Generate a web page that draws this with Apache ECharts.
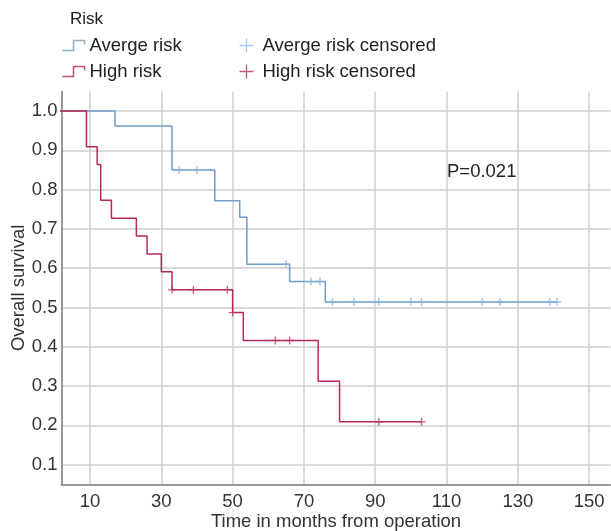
<!DOCTYPE html>
<html><head><meta charset="utf-8">
<script src="https://cdn.jsdelivr.net/npm/echarts@6/dist/echarts.min.js"></script>
<style>html,body{margin:0;padding:0;background:#fff}#c{width:611px;height:531px}</style>
</head><body><div id="c"></div>
<script>
var xTicks = [10, 30, 50, 70, 90, 110, 130, 150];
var yTicks = [0.1, 0.2, 0.3, 0.4, 0.5, 0.6, 0.7, 0.8, 0.9, 1.0];

var avgTimes = [0, 17, 33, 45, 52, 54, 66, 76, 141];
var avgSurv  = [1, 0.962, 0.850, 0.772, 0.730, 0.610, 0.566, 0.514, 0.514];
var avgCensT = [35, 40, 65, 72, 74.5, 78, 84, 91, 100, 103, 120, 125, 139, 141];
var avgCensS = [0.850, 0.850, 0.610, 0.566, 0.566, 0.514, 0.514, 0.514, 0.514, 0.514, 0.514, 0.514, 0.514, 0.514];

var highTimes = [0, 9, 12, 13, 16, 23, 26, 30, 33, 50, 53, 74, 80, 103];
var highSurv  = [1, 0.909, 0.864, 0.773, 0.727, 0.682, 0.636, 0.591, 0.545, 0.487, 0.416, 0.312, 0.209, 0.209];
var highCensT = [33, 39, 48.5, 50, 62, 66, 91, 103];
var highCensS = [0.545, 0.545, 0.545, 0.487, 0.416, 0.416, 0.209, 0.209];

function zip(a, b) { return a.map(function (v, i) { return [v, b[i]]; }); }

var BLUE = '#709cc6', BLUEC = '#7fb0de', RED = '#b52a52', REDC = '#b8385d';
var FONT = 'Liberation Sans';
var FS = 18.5;
var plus = 'path://M0,5L10,5M5,0L5,10';
var stepIcon = 'path://M0,9L9,9L9,1L18,1L18,4';

var chart = echarts.init(document.getElementById('c'));
chart.setOption({
  animation: false,
  textStyle: { fontFamily: FONT },
  grid: { left: 61.5, top: 91.4, width: 549, height: 392.9, containLabel: false, outerBoundsMode: 'none' },
  title: { text: 'Risk', left: 65, top: 6, textStyle: { fontFamily: FONT, fontSize: 17, fontWeight: 'normal', color: '#222' } },
  legend: [
    { orient: 'vertical', left: 55, top: 31, itemGap: 7, itemWidth: 22, itemHeight: 10,
      textStyle: { fontFamily: FONT, fontSize: FS, color: '#222' },
      data: [
        { name: 'Averge risk', icon: stepIcon, itemStyle: { color: 'none', borderColor: '#8fb0cc', borderWidth: 1.5 } },
        { name: 'High risk', icon: stepIcon, itemStyle: { color: 'none', borderColor: '#c0506e', borderWidth: 1.5 } }
      ] },
    { orient: 'vertical', left: 232, top: 31, itemGap: 7, itemWidth: 22, itemHeight: 14,
      textStyle: { fontFamily: FONT, fontSize: FS, color: '#222' },
      data: [
        { name: 'Averge risk censored', icon: plus, itemStyle: { color: 'none', borderColor: '#8fbbe6', borderWidth: 1.3 } },
        { name: 'High risk censored', icon: plus, itemStyle: { color: 'none', borderColor: '#b0304f', borderWidth: 1.3 } }
      ] }
  ],
  xAxis: {
    type: 'value', min: 2, max: 156,
    name: 'Time in months from operation', nameLocation: 'middle', nameGap: 28, nameMoveOverlap: false,
    nameTextStyle: { fontFamily: FONT, fontSize: FS, color: '#333' },
    axisLine: { show: true, onZero: false, lineStyle: { color: '#777', width: 1.5 } },
    axisTick: { show: false, customValues: xTicks },
    axisLabel: { customValues: xTicks, fontFamily: FONT, fontSize: FS, color: '#333', margin: 8 },
    splitLine: { show: true, lineStyle: { color: '#cfcfd4', width: 1.5 } }
  },
  yAxis: {
    type: 'value', min: 0.05, max: 1.05,
    name: 'Overall survival', nameLocation: 'middle', nameGap: 33, nameMoveOverlap: false,
    nameTextStyle: { fontFamily: FONT, fontSize: FS, color: '#333' },
    axisLine: { show: true, onZero: false, lineStyle: { color: '#777', width: 1.5 } },
    axisTick: { show: false, customValues: yTicks },
    axisLabel: { customValues: yTicks, fontFamily: FONT, fontSize: FS, color: '#333', margin: 4,
      formatter: function (v) { return v.toFixed(1); } },
    splitLine: { show: true, lineStyle: { color: '#cfcfd4', width: 1.5 } }
  },
  graphic: [
    { type: 'text', left: 447, top: 162, style: { text: 'P=0.021', font: FS + 'px "Liberation Sans"', fill: '#222' } }
  ],
  series: [
    { name: 'Averge risk', type: 'line', step: 'end', data: zip(avgTimes, avgSurv), showSymbol: false,
      lineStyle: { color: BLUE, width: 1.5 }, itemStyle: { color: BLUE }, z: 3 },
    { name: 'High risk', type: 'line', step: 'end', data: zip(highTimes, highSurv), showSymbol: false,
      lineStyle: { color: RED, width: 1.5 }, itemStyle: { color: RED }, z: 4 },
    { name: 'Averge risk censored', type: 'scatter', data: zip(avgCensT, avgCensS), symbol: plus, symbolSize: 8,
      itemStyle: { color: 'none', borderColor: BLUEC, borderWidth: 1.3 }, z: 5 },
    { name: 'High risk censored', type: 'scatter', data: zip(highCensT, highCensS), symbol: plus, symbolSize: 8,
      itemStyle: { color: 'none', borderColor: REDC, borderWidth: 1.3 }, z: 6 }
  ]
});
</script></body></html>
